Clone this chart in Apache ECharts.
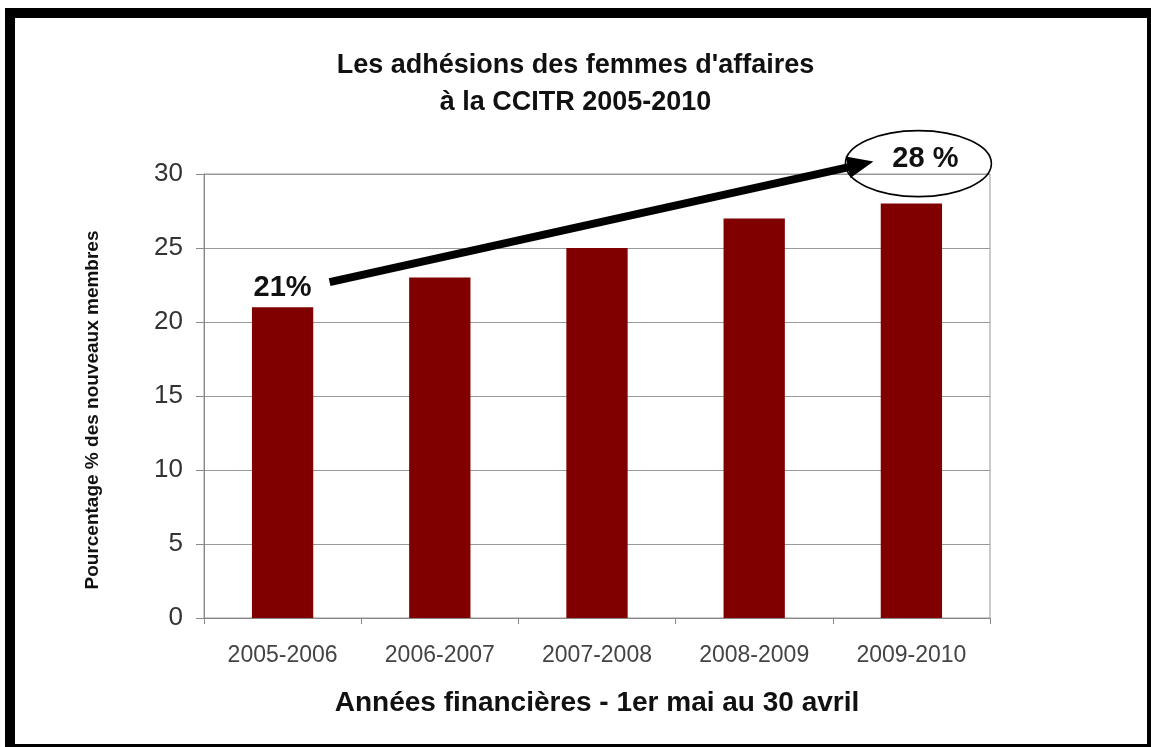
<!DOCTYPE html>
<html>
<head>
<meta charset="utf-8">
<script src="https://cdn.jsdelivr.net/npm/echarts@6/dist/echarts.min.js"></script>
<style>
  html, body { margin: 0; padding: 0; background: #fff; }
  #chart { width: 1151px; height: 747px; }
</style>
</head>
<body>
<div id="chart"></div>
<script>
// données
const categories = ['2005-2006', '2006-2007', '2007-2008', '2008-2009', '2009-2010'];
const values = [21, 23, 25, 27, 28];
const titleLines = ["Les adhésions des femmes d'affaires", 'à la CCITR 2005-2010'];
const xName = 'Années financières - 1er mai au 30 avril';
const yName = 'Pourcentage % des nouveaux membres';

const font = '"Liberation Sans", Arial, sans-serif';
const chart = echarts.init(document.getElementById('chart'));

const option = {
  backgroundColor: '#fff',
  animation: false,
  textStyle: { fontFamily: font },
  title: {
    text: titleLines.join('\n'),
    left: 'center',
    top: 42,
    textStyle: { fontFamily: font, fontSize: 27, fontWeight: 'bold', color: '#111', lineHeight: 37 }
  },
  grid: {
    left: 204, right: 161, top: 174, bottom: 129,
    show: true, borderColor: '#999', borderWidth: 1, backgroundColor: 'transparent'
  },
  xAxis: {
    type: 'category',
    data: categories,
    name: xName,
    nameLocation: 'middle',
    nameGap: 71,
    nameTextStyle: { fontFamily: font, fontSize: 28, fontWeight: 'bold', color: '#111' },
    axisLine: { lineStyle: { color: '#888', width: 1 } },
    axisTick: { show: true, length: 6, lineStyle: { color: '#888' } },
    axisLabel: { fontFamily: font, fontSize: 23, color: '#444', margin: 26 }
  },
  yAxis: {
    type: 'value',
    min: 0, max: 30, interval: 5,
    name: yName,
    nameLocation: 'middle',
    nameGap: 102,
    nameTextStyle: { fontFamily: font, fontSize: 19, fontWeight: 'bold', color: '#111', padding: [0, 28, 0, 0] },
    axisLine: { show: true, lineStyle: { color: '#888', width: 1 } },
    axisTick: { show: true, length: 8, lineStyle: { color: '#888' } },
    axisLabel: { fontFamily: font, fontSize: 26, color: '#333', margin: 21 },
    splitLine: { lineStyle: { color: '#999', width: 1 } }
  },
  series: [{
    type: 'bar',
    barWidth: '39%',
    itemStyle: { color: '#800000' },
    data: values.map((v, i) => {
      const d = { value: v };
      if (i === 0) {
        d.label = { show: true, position: 'top', distance: 5, formatter: '{c}%',
          fontFamily: font, fontSize: 29, fontWeight: 'bold', color: '#111' };
      } else if (i === values.length - 1) {
        d.label = { show: true, position: 'top', distance: 30, offset: [14, 0], formatter: '{c} %',
          fontFamily: font, fontSize: 29, fontWeight: 'bold', color: '#111' };
      }
      return d;
    })
  }]
};
chart.setOption(option);

// cadre noir + flèche et ellipse placées à partir des barres
const p0 = chart.convertToPixel({ seriesIndex: 0 }, [0, values[0]]);
const p4 = chart.convertToPixel({ seriesIndex: 0 }, [values.length - 1, values[values.length - 1]]);
const start = [p0[0] + 47, p0[1] - 25];
const tip = [p4[0] - 38, p4[1] - 42];
const dx = tip[0] - start[0], dy = tip[1] - start[1];
const len = Math.sqrt(dx * dx + dy * dy);
const ux = dx / len, uy = dy / len;
const headLen = 26, headHalf = 11;
const base = [tip[0] - ux * headLen, tip[1] - uy * headLen];

chart.setOption({
  graphic: [
    { type: 'rect', shape: { x: 5, y: 8, width: 1146, height: 10 }, style: { fill: '#000' } },
    { type: 'rect', shape: { x: 5, y: 8, width: 10, height: 739 }, style: { fill: '#000' } },
    { type: 'rect', shape: { x: 1147, y: 8, width: 4, height: 739 }, style: { fill: '#000' } },
    { type: 'rect', shape: { x: 5, y: 744, width: 1146, height: 3 }, style: { fill: '#000' } },
    {
      type: 'line', z: 100,
      shape: { x1: start[0], y1: start[1], x2: base[0] + ux * 2, y2: base[1] + uy * 2 },
      style: { stroke: '#000', lineWidth: 8 }
    },
    {
      type: 'polygon', z: 100,
      shape: { points: [
        tip,
        [base[0] - uy * headHalf, base[1] + ux * headHalf],
        [base[0] + uy * headHalf, base[1] - ux * headHalf]
      ] },
      style: { fill: '#000' }
    },
    {
      type: 'ellipse', z: 100,
      shape: { cx: p4[0] + 7, cy: p4[1] - 40, rx: 73, ry: 33 },
      style: { fill: 'none', stroke: '#000', lineWidth: 1.6 }
    }
  ]
});
</script>
</body>
</html>
